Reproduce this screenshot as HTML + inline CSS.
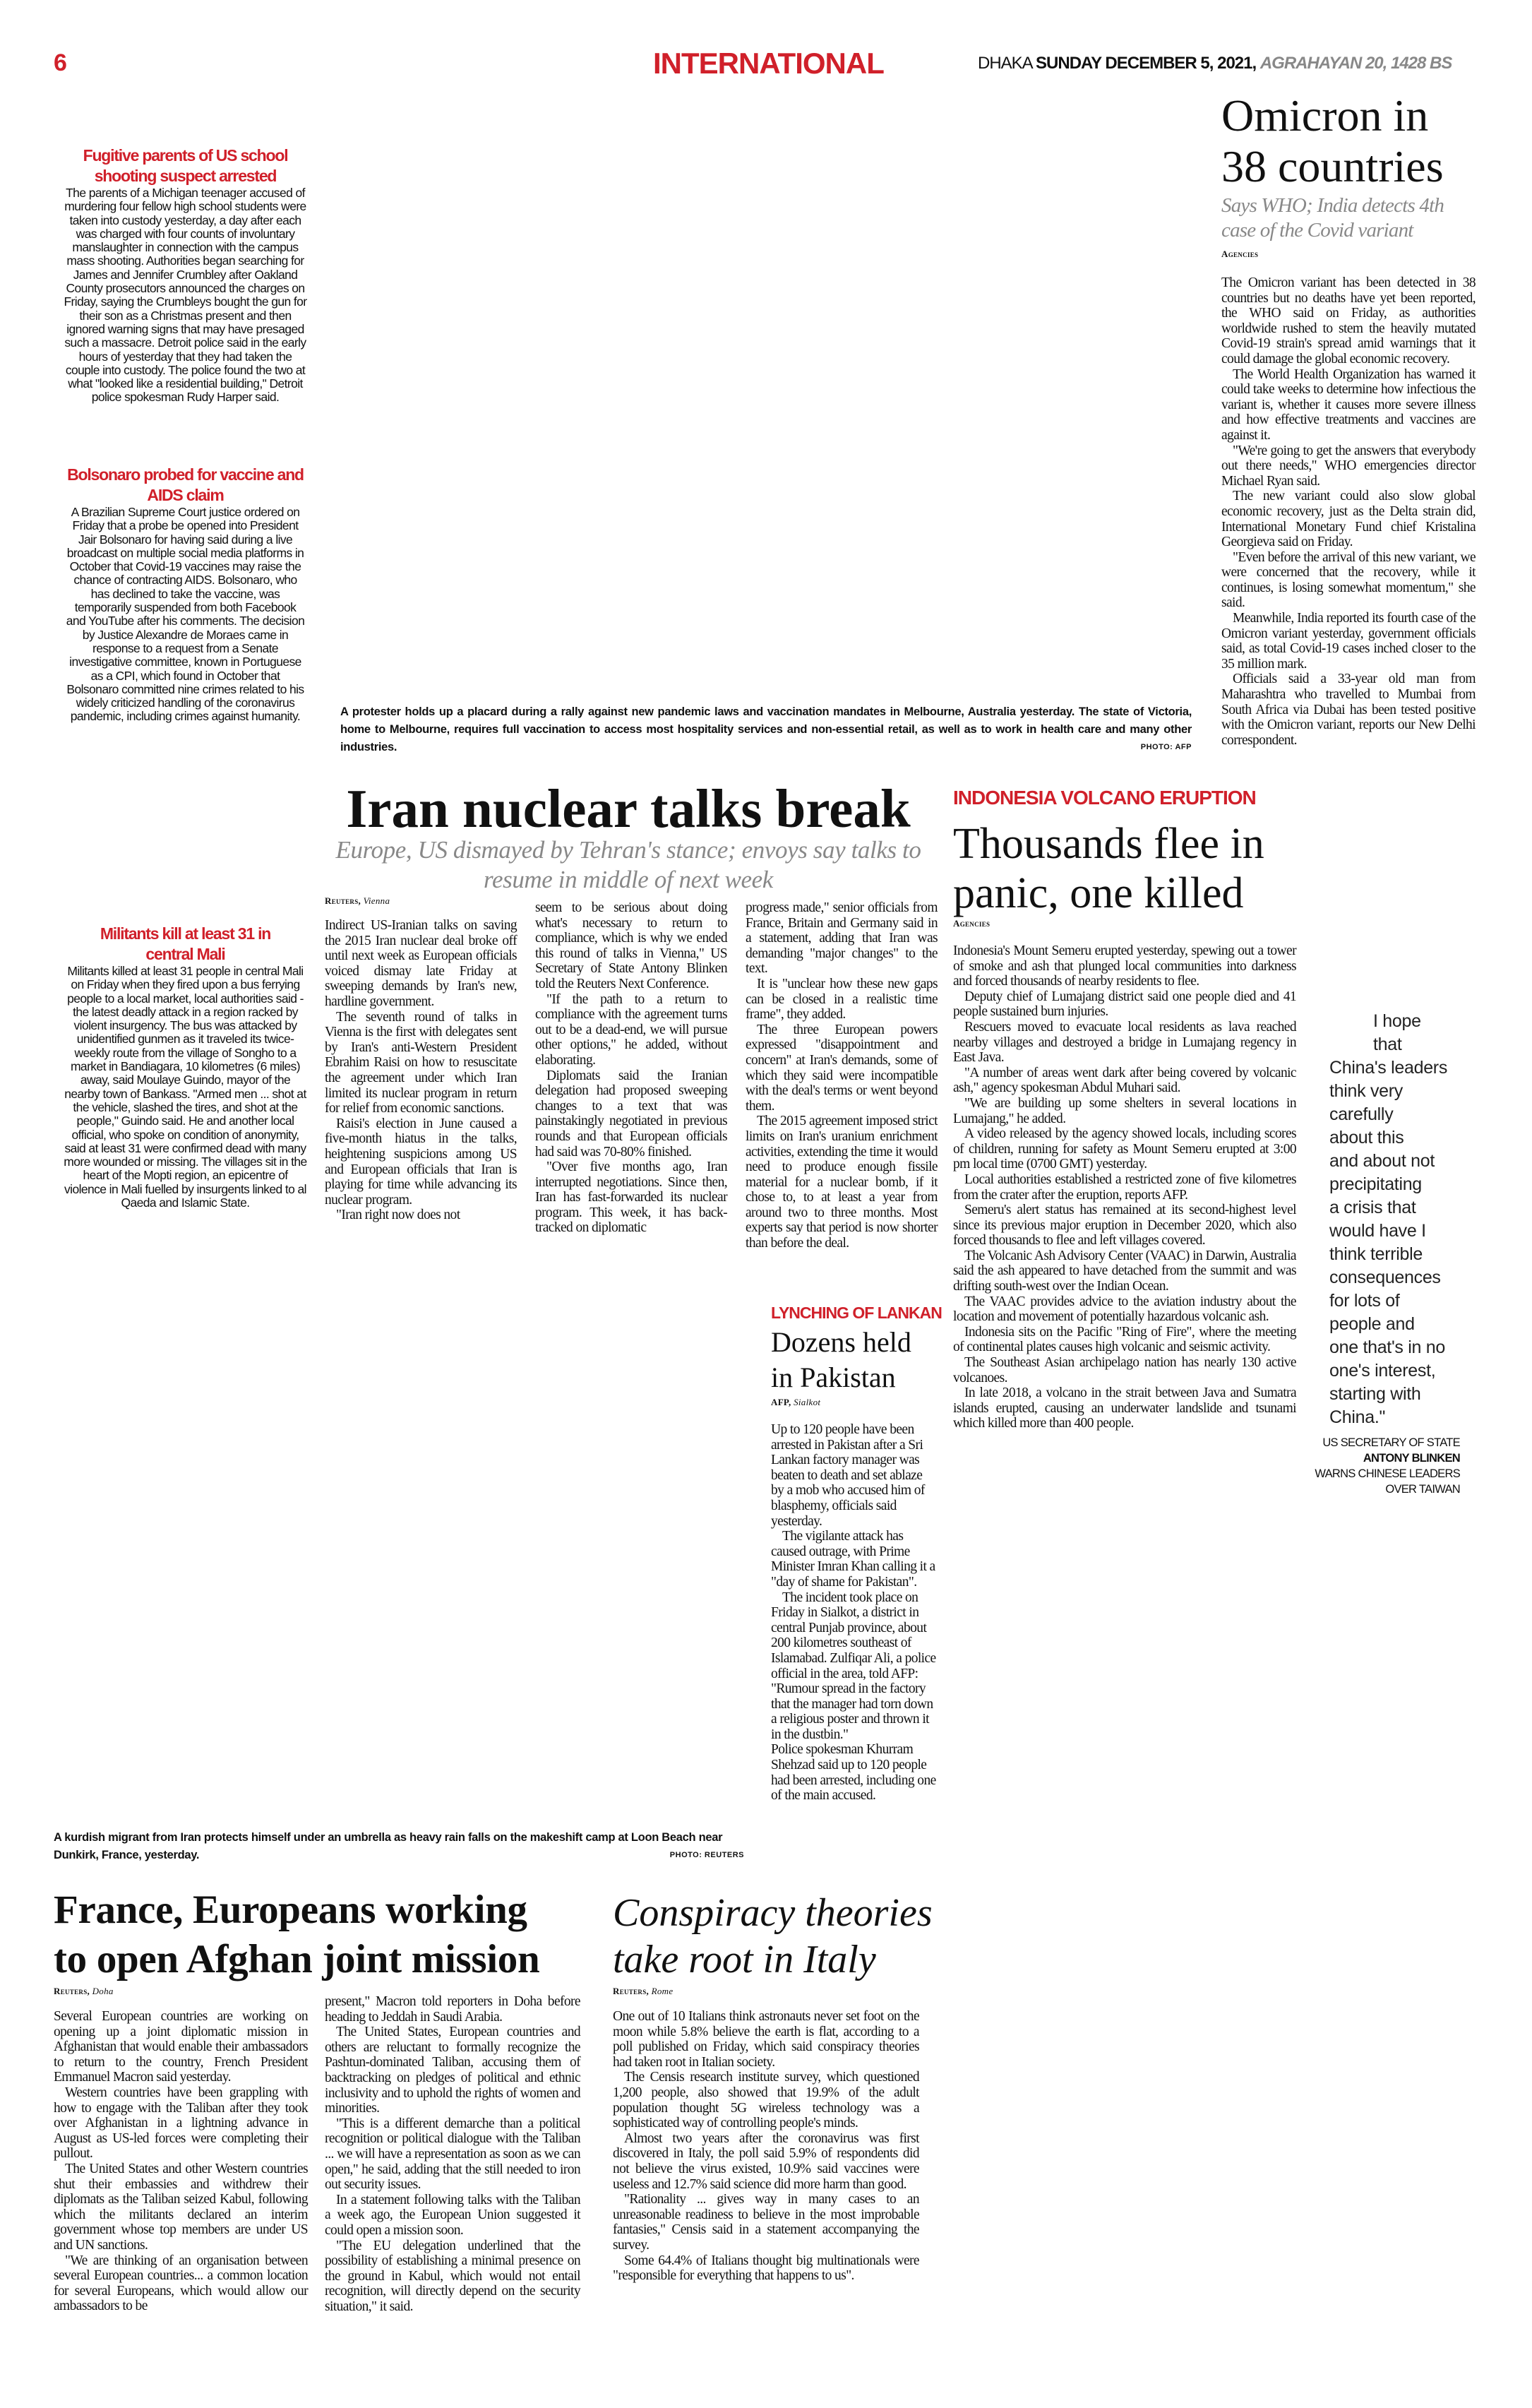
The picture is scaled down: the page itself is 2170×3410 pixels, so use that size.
<!DOCTYPE html>
<html><head><meta charset="utf-8">
<style>
*{margin:0;padding:0;box-sizing:border-box}
body{width:2170px;height:3410px;background:#fff;position:relative;overflow:hidden;font-family:"Liberation Serif",serif;color:#111}
.a{position:absolute}
.body{font-family:"Liberation Serif",serif;font-size:19.5px;line-height:21.6px;text-align:justify;letter-spacing:-0.6px}
.body p{text-indent:16px}
.body p.f{text-indent:0}
.side{font-family:"Liberation Sans",sans-serif;font-size:17.5px;line-height:19.3px;text-align:center;letter-spacing:-0.6px;color:#111}
.sh{font-family:"Liberation Sans",sans-serif;font-weight:bold;color:#d0202a;font-size:23px;line-height:29px;text-align:center;letter-spacing:-1.2px}
.cap{font-family:"Liberation Sans",sans-serif;font-weight:bold;font-size:16.5px;line-height:25px;letter-spacing:-0.3px}
.by{font-size:13px;letter-spacing:0.3px;font-variant:small-caps;font-weight:bold}
.by i{font-weight:normal;font-variant:normal}
.kick{font-family:"Liberation Sans",sans-serif;font-weight:bold;color:#d0202a;letter-spacing:-1px}
</style></head><body>

<div class="a" style="left:76px;top:70px;font-family:'Liberation Sans',sans-serif;font-weight:bold;color:#d0202a;font-size:34px">6</div>
<div class="a kick" style="left:925px;top:66px;font-size:42px">INTERNATIONAL</div>
<div class="a" style="left:1385px;top:76px;font-family:'Liberation Sans',sans-serif;font-size:24px;letter-spacing:-1px;white-space:nowrap">DHAKA <b>SUNDAY DECEMBER 5, 2021,</b> <b><i style="color:#888">AGRAHAYAN 20, 1428 BS</i></b></div>

<!-- Left sidebar -->
<div class="a" style="left:90px;top:206px;width:345px">
<div class="sh">Fugitive parents of US school shooting suspect arrested</div>
<div class="side">The parents of a Michigan teenager accused of murdering four fellow high school students were taken into custody yesterday, a day after each was charged with four counts of involuntary manslaughter in connection with the campus mass shooting. Authorities began searching for James and Jennifer Crumbley after Oakland County prosecutors announced the charges on Friday, saying the Crumbleys bought the gun for their son as a Christmas present and then ignored warning signs that may have presaged such a massacre. Detroit police said in the early hours of yesterday that they had taken the couple into custody. The police found the two at what "looked like a residential building," Detroit police spokesman Rudy Harper said.</div>
</div>
<div class="a" style="left:90px;top:658px;width:345px">
<div class="sh">Bolsonaro probed for vaccine and AIDS claim</div>
<div class="side">A Brazilian Supreme Court justice ordered on Friday that a probe be opened into President Jair Bolsonaro for having said during a live broadcast on multiple social media platforms in October that Covid-19 vaccines may raise the chance of contracting AIDS. Bolsonaro, who has declined to take the vaccine, was temporarily suspended from both Facebook and YouTube after his comments. The decision by Justice Alexandre de Moraes came in response to a request from a Senate investigative committee, known in Portuguese as a CPI, which found in October that Bolsonaro committed nine crimes related to his widely criticized handling of the coronavirus pandemic, including crimes against humanity.</div>
</div>
<div class="a" style="left:110px;top:1308px;width:305px">
<div class="sh">Militants kill at least 31 in central Mali</div>
</div>
<div class="a" style="left:90px;top:1366px;width:345px">
<div class="side">Militants killed at least 31 people in central Mali on Friday when they fired upon a bus ferrying people to a local market, local authorities said - the latest deadly attack in a region racked by violent insurgency. The bus was attacked by unidentified gunmen as it traveled its twice-weekly route from the village of Songho to a market in Bandiagara, 10 kilometres (6 miles) away, said Moulaye Guindo, mayor of the nearby town of Bankass. "Armed men ... shot at the vehicle, slashed the tires, and shot at the people," Guindo said. He and another local official, who spoke on condition of anonymity, said at least 31 were confirmed dead with many more wounded or missing. The villages sit in the heart of the Mopti region, an epicentre of violence in Mali fuelled by insurgents linked to al Qaeda and Islamic State.</div>
</div>

<!-- Top caption -->
<div class="a cap" style="left:482px;top:996px;width:1206px;text-align:justify">A protester holds up a placard during a rally against new pandemic laws and vaccination mandates in Melbourne, Australia yesterday. The state of Victoria, home to Melbourne, requires full vaccination to access most hospitality services and non-essential retail, as well as to work in health care and many other industries. <span style="float:right;font-size:11px;letter-spacing:0.5px">PHOTO: AFP</span></div>

<!-- Omicron -->
<div class="a" style="left:1730px;top:128px;width:370px">
<div style="font-size:64px;line-height:72px;white-space:nowrap">Omicron in<br>38 countries</div>
<div style="font-size:29px;line-height:35px;font-style:italic;color:#888;margin-top:2px;letter-spacing:-0.8px;width:370px;white-space:nowrap">Says WHO; India detects 4th<br>case of the Covid variant</div>
<div class="by" style="margin-top:8px">Agencies</div>
</div>
<div class="a body" style="left:1730px;top:390px;width:360px">
<p class="f">The Omicron variant has been detected in 38 countries but no deaths have yet been reported, the WHO said on Friday, as authorities worldwide rushed to stem the heavily mutated Covid-19 strain's spread amid warnings that it could damage the global economic recovery.</p>
<p>The World Health Organization has warned it could take weeks to determine how infectious the variant is, whether it causes more severe illness and how effective treatments and vaccines are against it.</p>
<p>"We're going to get the answers that everybody out there needs," WHO emergencies director Michael Ryan said.</p>
<p>The new variant could also slow global economic recovery, just as the Delta strain did, International Monetary Fund chief Kristalina Georgieva said on Friday.</p>
<p>"Even before the arrival of this new variant, we were concerned that the recovery, while it continues, is losing somewhat momentum," she said.</p>
<p>Meanwhile, India reported its fourth case of the Omicron variant yesterday, government officials said, as total Covid-19 cases inched closer to the 35 million mark.</p>
<p>Officials said a 33-year old man from Maharashtra who travelled to Mumbai from South Africa via Dubai has been tested positive with the Omicron variant, reports our New Delhi correspondent.</p>
</div>

<!-- Iran -->
<div class="a" style="left:440px;top:1100px;width:900px;text-align:center;font-weight:bold;font-size:77px;line-height:90px;white-space:nowrap">Iran nuclear talks break</div>
<div class="a" style="left:440px;top:1183px;width:900px;text-align:center;font-style:italic;color:#888;font-size:35px;line-height:42px;letter-spacing:-0.4px;white-space:nowrap">Europe, US dismayed by Tehran's stance; envoys say talks to<br>resume in middle of next week</div>
<div class="a by" style="left:460px;top:1268px">Reuters, <i>Vienna</i></div>
<div class="a body" style="left:460px;top:1300px;width:272px">
<p class="f">Indirect US-Iranian talks on saving the 2015 Iran nuclear deal broke off until next week as European officials voiced dismay late Friday at sweeping demands by Iran's new, hardline government.</p>
<p>The seventh round of talks in Vienna is the first with delegates sent by Iran's anti-Western President Ebrahim Raisi on how to resuscitate the agreement under which Iran limited its nuclear program in return for relief from economic sanctions.</p>
<p>Raisi's election in June caused a five-month hiatus in the talks, heightening suspicions among US and European officials that Iran is playing for time while advancing its nuclear program.</p>
<p>"Iran right now does not</p>
</div>
<div class="a body" style="left:758px;top:1275px;width:272px">
<p class="f">seem to be serious about doing what's necessary to return to compliance, which is why we ended this round of talks in Vienna," US Secretary of State Antony Blinken told the Reuters Next Conference.</p>
<p>"If the path to a return to compliance with the agreement turns out to be a dead-end, we will pursue other options," he added, without elaborating.</p>
<p>Diplomats said the Iranian delegation had proposed sweeping changes to a text that was painstakingly negotiated in previous rounds and that European officials had said was 70-80% finished.</p>
<p>"Over five months ago, Iran interrupted negotiations. Since then, Iran has fast-forwarded its nuclear program. This week, it has back-tracked on diplomatic</p>
</div>
<div class="a body" style="left:1056px;top:1275px;width:272px">
<p class="f">progress made," senior officials from France, Britain and Germany said in a statement, adding that Iran was demanding "major changes" to the text.</p>
<p>It is "unclear how these new gaps can be closed in a realistic time frame", they added.</p>
<p>The three European powers expressed "disappointment and concern" at Iran's demands, some of which they said were incompatible with the deal's terms or went beyond them.</p>
<p>The 2015 agreement imposed strict limits on Iran's uranium enrichment activities, extending the time it would need to produce enough fissile material for a nuclear bomb, if it chose to, to at least a year from around two to three months. Most experts say that period is now shorter than before the deal.</p>
</div>

<!-- Indonesia -->
<div class="a kick" style="left:1350px;top:1114px;font-size:28px">INDONESIA VOLCANO ERUPTION</div>
<div class="a" style="left:1350px;top:1160px;font-size:62px;line-height:70px;white-space:nowrap">Thousands flee in<br>panic, one killed</div>
<div class="a by" style="left:1350px;top:1300px">Agencies</div>
<div class="a body" style="left:1350px;top:1336px;width:486px">
<p class="f">Indonesia's Mount Semeru erupted yesterday, spewing out a tower of smoke and ash that plunged local communities into darkness and forced thousands of nearby residents to flee.</p>
<p>Deputy chief of Lumajang district said one people died and 41 people sustained burn injuries.</p>
<p>Rescuers moved to evacuate local residents as lava reached nearby villages and destroyed a bridge in Lumajang regency in East Java.</p>
<p>"A number of areas went dark after being covered by volcanic ash," agency spokesman Abdul Muhari said.</p>
<p>"We are building up some shelters in several locations in Lumajang," he added.</p>
<p>A video released by the agency showed locals, including scores of children, running for safety as Mount Semeru erupted at 3:00 pm local time (0700 GMT) yesterday.</p>
<p>Local authorities established a restricted zone of five kilometres from the crater after the eruption, reports AFP.</p>
<p>Semeru's alert status has remained at its second-highest level since its previous major eruption in December 2020, which also forced thousands to flee and left villages covered.</p>
<p>The Volcanic Ash Advisory Center (VAAC) in Darwin, Australia said the ash appeared to have detached from the summit and was drifting south-west over the Indian Ocean.</p>
<p>The VAAC provides advice to the aviation industry about the location and movement of potentially hazardous volcanic ash.</p>
<p>Indonesia sits on the Pacific "Ring of Fire", where the meeting of continental plates causes high volcanic and seismic activity.</p>
<p>The Southeast Asian archipelago nation has nearly 130 active volcanoes.</p>
<p>In late 2018, a volcano in the strait between Java and Sumatra islands erupted, causing an underwater landslide and tsunami which killed more than 400 people.</p>
</div>

<!-- Quote -->
<div class="a" style="left:1883px;top:1430px;width:200px;font-family:'Liberation Sans',sans-serif;font-size:25px;line-height:33px;color:#222;letter-spacing:-0.3px">
<div style="padding-left:62px">I hope<br>that</div>China's leaders<br>think very<br>carefully<br>about this<br>and about not<br>precipitating<br>a crisis that<br>would have I<br>think terrible<br>consequences<br>for lots of<br>people and<br>one that's in no<br>one's interest,<br>starting with<br>China."</div>
<div class="a" style="left:1800px;top:2032px;width:268px;text-align:right;font-family:'Liberation Sans',sans-serif;font-size:16.5px;line-height:22px;letter-spacing:-0.7px">US SECRETARY OF STATE<br><b>ANTONY BLINKEN</b><br>WARNS CHINESE LEADERS<br>OVER TAIWAN</div>

<!-- Lankan -->
<div class="a kick" style="left:1092px;top:1846px;font-size:23px">LYNCHING OF LANKAN</div>
<div class="a" style="left:1092px;top:1876px;font-size:40px;line-height:50px">Dozens held<br>in Pakistan</div>
<div class="a by" style="left:1092px;top:1978px;font-weight:bold">AFP, <i>Sialkot</i></div>
<div class="a body" style="left:1092px;top:2014px;width:236px;text-align:left">
<p class="f">Up to 120 people have been arrested in Pakistan after a Sri Lankan factory manager was beaten to death and set ablaze by a mob who accused him of blasphemy, officials said yesterday.</p>
<p>The vigilante attack has caused outrage, with Prime Minister Imran Khan calling it a "day of shame for Pakistan".</p>
<p>The incident took place on Friday in Sialkot, a district in central Punjab province, about 200 kilometres southeast of Islamabad. Zulfiqar Ali, a police official in the area, told AFP: "Rumour spread in the factory that the manager had torn down a religious poster and thrown it in the dustbin."</p>
<p class="f">Police spokesman Khurram Shehzad said up to 120 people had been arrested, including one of the main accused.</p>
</div>

<!-- Bottom caption -->
<div class="a cap" style="left:76px;top:2590px;width:978px">A kurdish migrant from Iran protects himself under an umbrella as heavy rain falls on the makeshift camp at Loon Beach near Dunkirk, France, yesterday. <span style="float:right;font-size:11px;letter-spacing:0.5px">PHOTO: REUTERS</span></div>

<!-- France -->
<div class="a" style="left:76px;top:2670px;font-weight:bold;font-size:57px;line-height:70px;white-space:nowrap;letter-spacing:-0.3px">France, Europeans working<br>to open Afghan joint mission</div>
<div class="a by" style="left:76px;top:2812px">Reuters, <i>Doha</i></div>
<div class="a body" style="left:76px;top:2845px;width:360px">
<p class="f">Several European countries are working on opening up a joint diplomatic mission in Afghanistan that would enable their ambassadors to return to the country, French President Emmanuel Macron said yesterday.</p>
<p>Western countries have been grappling with how to engage with the Taliban after they took over Afghanistan in a lightning advance in August as US-led forces were completing their pullout.</p>
<p>The United States and other Western countries shut their embassies and withdrew their diplomats as the Taliban seized Kabul, following which the militants declared an interim government whose top members are under US and UN sanctions.</p>
<p>"We are thinking of an organisation between several European countries... a common location for several Europeans, which would allow our ambassadors to be</p>
</div>
<div class="a body" style="left:460px;top:2824px;width:362px">
<p class="f">present," Macron told reporters in Doha before heading to Jeddah in Saudi Arabia.</p>
<p>The United States, European countries and others are reluctant to formally recognize the Pashtun-dominated Taliban, accusing them of backtracking on pledges of political and ethnic inclusivity and to uphold the rights of women and minorities.</p>
<p>"This is a different demarche than a political recognition or political dialogue with the Taliban ... we will have a representation as soon as we can open," he said, adding that the still needed to iron out security issues.</p>
<p>In a statement following talks with the Taliban a week ago, the European Union suggested it could open a mission soon.</p>
<p>"The EU delegation underlined that the possibility of establishing a minimal presence on the ground in Kabul, which would not entail recognition, will directly depend on the security situation," it said.</p>
</div>

<!-- Conspiracy -->
<div class="a" style="left:868px;top:2676px;font-style:italic;font-size:56px;line-height:66px;white-space:nowrap">Conspiracy theories<br>take root in Italy</div>
<div class="a by" style="left:868px;top:2812px">Reuters, <i>Rome</i></div>
<div class="a body" style="left:868px;top:2845px;width:434px">
<p class="f">One out of 10 Italians think astronauts never set foot on the moon while 5.8% believe the earth is flat, according to a poll published on Friday, which said conspiracy theories had taken root in Italian society.</p>
<p>The Censis research institute survey, which questioned 1,200 people, also showed that 19.9% of the adult population thought 5G wireless technology was a sophisticated way of controlling people's minds.</p>
<p>Almost two years after the coronavirus was first discovered in Italy, the poll said 5.9% of respondents did not believe the virus existed, 10.9% said vaccines were useless and 12.7% said science did more harm than good.</p>
<p>"Rationality ... gives way in many cases to an unreasonable readiness to believe in the most improbable fantasies," Censis said in a statement accompanying the survey.</p>
<p>Some 64.4% of Italians thought big multinationals were "responsible for everything that happens to us".</p>
</div>

</body></html>
